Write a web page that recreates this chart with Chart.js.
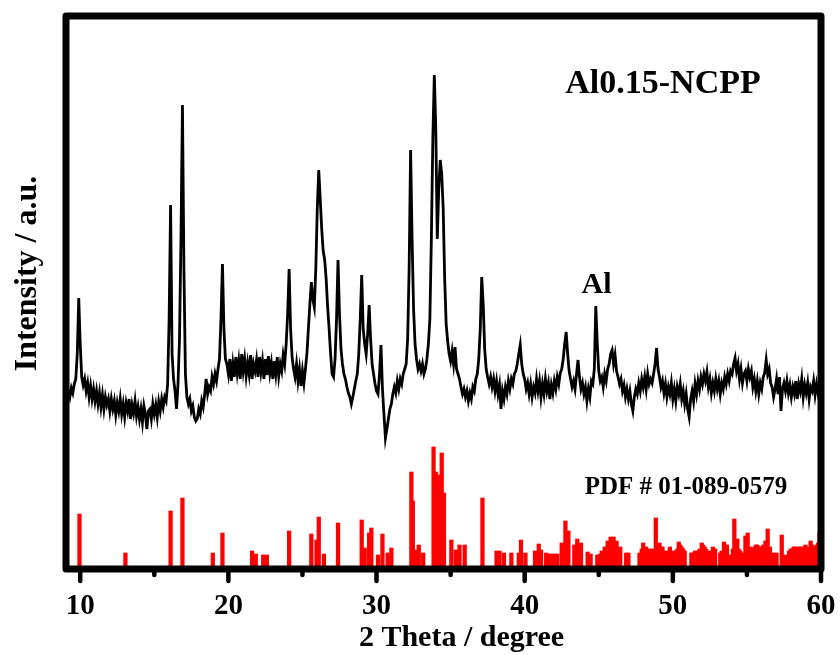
<!DOCTYPE html>
<html>
<head>
<meta charset="utf-8">
<script src="https://cdn.jsdelivr.net/npm/chart.js@4.4.1/dist/chart.umd.min.js"></script>
<style>
  html, body { margin: 0; padding: 0; background: #fff; }
  #wrap { width: 840px; height: 655px; }
</style>
</head>
<body>
<div id="wrap"><canvas id="c" width="840" height="655"></canvas></div>
<script>
// ---- data (2θ sampling grid: start 9.1°, step 0.1°) ----
const thetaStart = 9.1;
const thetaStep = 0.1;
// measured intensity (a.u.) of Al0.15-NCPP, one row per degree
const intensity = [
  /* 9.1-9.9 */ 168,178,172,181,176,185,190,215,271,
  /* 10 */ 225,192,184,190,178,186,172,183,170,180,
  /* 11 */ 168,178,165,176,162,174,160,172,164,170,
  /* 12 */ 158,170,160,168,154,166,158,170,155,165,
  /* 13 */ 152,166,158,170,150,164,156,168,153,162,
  /* 14 */ 150,160,147,163,155,140,158,160,150,165,
  /* 15 */ 155,164,152,167,158,170,162,172,168,185,
  /* 16 */ 250,364,215,190,178,160,185,230,330,464,
  /* 17 */ 300,195,172,165,170,158,163,152,148,150,
  /* 18 */ 160,155,168,162,175,190,175,182,178,192,
  /* 19 */ 185,195,188,200,210,250,305,240,210,205,
  /* 20 */ 195,210,188,205,192,212,196,208,190,215,
  /* 21 */ 198,210,193,206,195,214,190,205,198,209,
  /* 22 */ 192,212,197,208,190,210,194,213,196,206,
  /* 23 */ 190,208,195,212,193,205,198,214,205,225,
  /* 24 */ 255,300,240,212,200,192,205,188,200,183,
  /* 25 */ 198,186,200,215,240,265,287,270,262,300,
  /* 26 */ 360,399,370,340,318,309,290,262,240,215,
  /* 27 */ 195,192,210,250,309,255,220,205,195,190,
  /* 28 */ 182,176,172,165,172,180,188,195,215,250,
  /* 29 */ 294,240,225,215,235,264,230,205,195,185,
  /* 30 */ 178,175,195,224,180,155,131,140,150,160,
  /* 31 */ 165,175,182,176,188,180,190,185,195,200,
  /* 32 */ 205,230,300,419,330,260,225,210,200,205,
  /* 33 */ 198,205,195,200,210,225,250,330,430,494,
  /* 34 */ 440,330,380,409,395,360,290,245,228,215,
  /* 35 */ 208,218,205,222,200,195,190,182,175,180,
  /* 36 */ 172,178,168,176,170,182,178,190,195,210,
  /* 37 */ 240,292,265,220,200,192,185,192,182,190,
  /* 38 */ 178,188,175,184,160,178,170,182,175,188,
  /* 39 */ 180,190,185,195,198,205,215,224,205,195,
  /* 40 */ 190,180,186,175,185,172,182,176,190,178,
  /* 41 */ 188,172,185,175,190,178,186,170,184,176,
  /* 42 */ 188,180,192,185,196,200,210,225,237,215,
  /* 43 */ 198,190,182,188,180,195,209,192,180,186,
  /* 44 */ 175,182,168,180,172,188,185,200,263,225,
  /* 45 */ 198,188,192,182,195,188,200,205,215,219,
  /* 46 */ 205,214,198,192,185,190,178,184,172,180,
  /* 47 */ 170,178,165,158,172,180,175,186,178,190,
  /* 48 */ 182,192,180,195,185,190,186,195,205,221,
  /* 49 */ 200,192,182,188,176,185,172,182,175,186,
  /* 50 */ 170,180,168,182,175,185,170,178,165,175,
  /* 51 */ 160,152,170,178,168,185,175,188,180,192,
  /* 52 */ 185,195,188,197,182,190,176,186,178,190,
  /* 53 */ 180,188,175,186,180,192,185,195,188,198,
  /* 54 */ 195,205,211,198,205,190,200,186,195,198,
  /* 55 */ 188,200,192,198,182,190,178,188,175,186,
  /* 56 */ 180,192,196,209,195,200,186,182,172,180,
  /* 57 */ 190,175,192,158,180,186,178,188,176,184,
  /* 58 */ 172,182,175,188,170,185,178,190,172,184,
  /* 59 */ 176,186,170,182,178,188,174,185,176,186,
  /* 60 */ 180
];
const twoTheta = intensity.map((_, i) => +(thetaStart + i * thetaStep).toFixed(1));

// reference card PDF # 01-089-0579 : line positions and relative intensities
const pdfTheta = [
  9.95,13.05,16.1,16.9,18.95,19.6,21.6,21.85,22.35,22.6,24.1,25.6,25.95,26.1,26.45,27.4,
  29.0,29.2,29.5,29.65,30.1,30.4,30.75,31.0,32.35,32.45,32.6,32.85,33.15,33.85,34.0,34.15,
  34.4,34.55,35.05,35.35,35.6,35.95,37.15,38.1,38.3,38.6,39.1,39.6,39.75,40.05,40.7,40.95,
  41.1,41.45,41.7,41.95,42.2,42.5,42.75,42.95,43.35,43.55,43.8,44.25,44.45,44.9,45.1,45.2,
  45.4,45.6,45.8,46.0,46.2,46.45,46.85,47.0,47.75,47.9,48.0,48.2,48.4,48.6,48.85,49.1,
  49.2,49.3,49.5,49.65,49.8,50.0,50.2,50.3,50.4,50.5,50.6,50.7,50.8,51.25,51.35,51.5,
  51.65,51.8,51.95,52.05,52.15,52.25,52.35,52.5,52.7,52.85,53.2,53.3,53.45,53.55,53.65,53.8,
  54.05,54.15,54.25,54.35,54.45,54.55,54.7,54.9,55.05,55.2,55.35,55.5,55.6,55.7,55.8,55.9,
  56.0,56.1,56.25,56.4,56.55,56.8,57.0,57.35,57.5,57.75,57.85,57.95,58.05,58.15,58.25,58.35,
  58.45,58.55,58.65,58.75,58.85,58.95,59.05,59.15,59.3,59.4,59.5,59.6,59.7,59.8,59.9
];
const pdfIntensity = [
  55,16,58,71,16,36,18,15,14,14,38,35,29,52,15,46,
  49,21,36,41,14,35,16,21,97,68,19,24,16,122,97,94,
  116,76,29,19,24,24,71,18,18,16,16,16,29,16,18,25,
  19,16,15,15,15,26,48,38,24,30,26,17,15,14,15,18,
  22,28,32,32,28,22,16,16,16,20,26,22,20,20,51,26,
  22,22,18,18,22,18,18,20,27,24,22,20,18,16,16,18,
  18,20,26,24,22,20,16,18,22,20,16,18,27,24,24,14,
  20,50,28,30,20,18,16,33,36,22,20,22,24,24,22,22,
  20,24,28,40,22,16,16,34,14,14,18,20,20,22,22,22,
  20,22,22,22,20,24,20,22,28,24,22,22,24,26,36
];

const majorTicks = [10, 20, 30, 40, 50, 60];
const xTickLabels = ['10', '20', '30', '40', '50', '60'];
const minorTicks = [15, 25, 35, 45, 55];
const sampleLabel = 'Al0.15-NCPP';
const peakLabel = { text: 'Al', x: 44.85 };
const pdfLabel = 'PDF # 01-089-0579';
const xTitle = '2 Theta / degree';
const yTitle = 'Intensity / a.u.';

// ---- drawing ----
const SERIF = '"Liberation Serif", "Times New Roman", serif';

const decor = {
  id: 'decor',
  afterDatasetsDraw(chart) {
    const { ctx, chartArea: a, scales: { x } } = chart;
    ctx.save();
    // frame
    ctx.strokeStyle = '#000';
    ctx.lineJoin = 'round';
    ctx.lineWidth = 7;
    ctx.strokeRect(a.left, a.top, a.right - a.left, a.bottom - a.top);
    // ticks
    ctx.lineCap = 'round';
    ctx.lineWidth = 4.5;
    majorTicks.forEach(v => {
      const px = x.getPixelForValue(v);
      ctx.beginPath(); ctx.moveTo(px, a.bottom); ctx.lineTo(px, a.bottom + 12); ctx.stroke();
    });
    minorTicks.forEach(v => {
      const px = x.getPixelForValue(v);
      ctx.beginPath(); ctx.moveTo(px, a.bottom); ctx.lineTo(px, a.bottom + 6); ctx.stroke();
    });
    // tick labels
    ctx.fillStyle = '#000';
    ctx.textAlign = 'center';
    ctx.textBaseline = 'alphabetic';
    ctx.font = 'bold 29px ' + SERIF;
    majorTicks.forEach((v, i) => ctx.fillText(xTickLabels[i], x.getPixelForValue(v), a.bottom + 45));
    // x title
    ctx.font = 'bold 30px ' + SERIF;
    ctx.fillText(xTitle, (a.left + a.right) / 2 + 18, a.bottom + 77);
    // y title
    ctx.save();
    ctx.translate(36, (a.top + a.bottom) / 2 - 19);
    ctx.rotate(-Math.PI / 2);
    ctx.font = 'bold 32px ' + SERIF;
    ctx.fillText(yTitle, 0, 0);
    ctx.restore();
    // annotations
    ctx.font = 'bold 34px ' + SERIF;
    ctx.fillText(sampleLabel, 663, 93);
    ctx.font = 'bold 30px ' + SERIF;
    ctx.fillText(peakLabel.text, x.getPixelForValue(peakLabel.x), 293);
    ctx.font = 'bold 25px ' + SERIF;
    ctx.fillText(pdfLabel, 686, 494);
    ctx.restore();
  }
};

new Chart(document.getElementById('c'), {
  type: 'line',
  data: {
    datasets: [
      {
        type: 'line',
        data: twoTheta.map((t, i) => ({ x: t, y: intensity[i] })),
        borderColor: '#000',
        borderWidth: 2.8,
        pointRadius: 0,
        tension: 0,
        order: 1
      },
      {
        type: 'bar',
        data: pdfTheta.map((t, i) => ({ x: t, y: pdfIntensity[i] })),
        backgroundColor: '#ff0000',
        borderWidth: 0,
        barThickness: 3.6,
        order: 2
      }
    ]
  },
  options: {
    responsive: false,
    animation: false,
    layout: { padding: { left: 66, right: 19, top: 16, bottom: 86 } },
    plugins: { legend: { display: false }, tooltip: { enabled: false } },
    scales: {
      x: { type: 'linear', min: 9.04, max: 60, display: false, offset: false },
      y: { type: 'linear', min: 0, max: 553, display: false }
    }
  },
  plugins: [decor]
});
</script>
</body>
</html>
